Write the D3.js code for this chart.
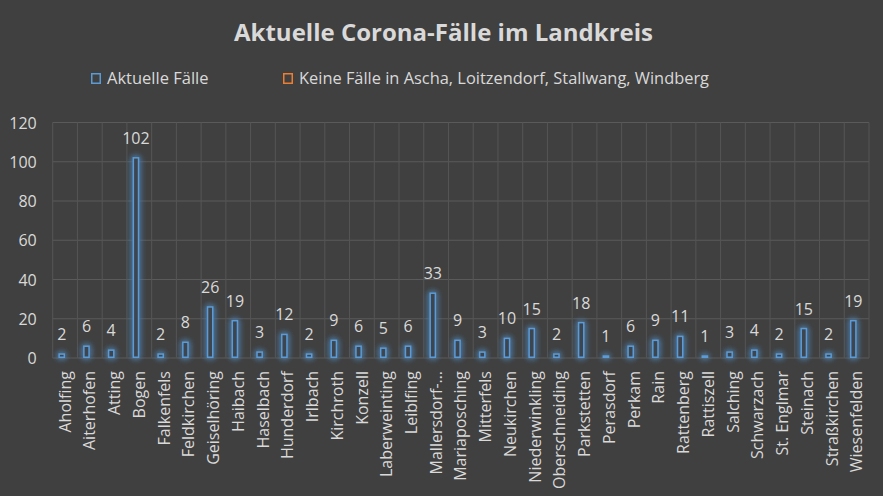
<!DOCTYPE html>
<html><head><meta charset="utf-8">
<script src="https://cdn.jsdelivr.net/npm/d3@7"></script>
<style>
html,body{margin:0;padding:0;background:#404040;}
svg{display:block;}
text{font-family:"Open Sans",sans-serif;}
</style></head><body>
<svg id="c" width="883" height="496"></svg>
<script>
const categories = ["Aholfing","Aiterhofen","Atting","Bogen","Falkenfels","Feldkirchen","Geiselhöring","Haibach","Haselbach","Hunderdorf","Irlbach","Kirchroth","Konzell","Laberweinting","Leiblfing","Mallersdorf-…","Mariaposching","Mitterfels","Neukirchen","Niederwinkling","Oberschneiding","Parkstetten","Perasdorf","Perkam","Rain","Rattenberg","Rattiszell","Salching","Schwarzach","St. Englmar","Steinach","Straßkirchen","Wiesenfelden"];
const aktuelleFaelle = [2,6,4,102,2,8,26,19,3,12,2,9,6,5,6,33,9,3,10,15,2,18,1,6,9,11,1,3,4,2,15,2,19];
const keineFaelle = categories.map(() => 0);
const seriesNames = ["Aktuelle Fälle","Keine Fälle in Ascha, Loitzendorf, Stallwang, Windberg"];
const yTicks = [0,20,40,60,80,100,120];
const title = "Aktuelle Corona-Fälle im Landkreis";

const svg = d3.select("#c");
const W = 883, H = 496;
const m = {left:52.7, right:W-869, top:122.5, bottom:H-358};
const colors = ["#5b9bd5","#ed7d31"];
const txt = "#d9d9d9";

const defs = svg.append("defs");
const f = defs.append("filter").attr("id","glow").attr("x","-150%").attr("y","-30%").attr("width","400%").attr("height","160%");
f.append("feGaussianBlur").attr("in","SourceGraphic").attr("stdDeviation",3).attr("result","b");
const fm = f.append("feMerge");
fm.append("feMergeNode").attr("in","b");
fm.append("feMergeNode").attr("in","b");
fm.append("feMergeNode").attr("in","SourceGraphic");

const x0 = d3.scaleBand().domain(categories).range([m.left, W-m.right]).padding(0);
const x1 = d3.scaleBand().domain([0,1]).range([x0.bandwidth()*0.23, x0.bandwidth()*0.77]);
const y = d3.scaleLinear().domain([0,120]).range([H-m.bottom, m.top]);

// gridlines
const g = svg.append("g");
g.selectAll("line.h").data(yTicks).join("line")
  .attr("x1", m.left).attr("x2", W-m.right)
  .attr("y1", d=>y(d)).attr("y2", d=>y(d))
  .attr("stroke","#5a5a5a").attr("stroke-width",1);
const vx = categories.map(c=>x0(c)).concat([W-m.right]);
g.selectAll("line.v").data(vx).join("line")
  .attr("x1", d=>d).attr("x2", d=>d)
  .attr("y1", y(120)).attr("y2", y(0))
  .attr("stroke","#555555").attr("stroke-width",1);

// y axis
const ya = svg.append("g").attr("transform",`translate(${m.left-16},0)`)
  .call(d3.axisLeft(y).tickValues(yTicks).tickSize(0).tickPadding(0));
ya.select(".domain").remove();
ya.selectAll("text").attr("fill",txt).attr("font-size",16).attr("font-family","'Open Sans',sans-serif").attr("dy","0.35em");

// x axis
const xa = svg.append("g").attr("transform",`translate(0,${y(0)})`)
  .call(d3.axisBottom(x0).tickSize(0).tickPadding(0));
xa.select(".domain").remove();
xa.selectAll("text").attr("fill",txt).attr("font-size",16).attr("font-family","'Open Sans',sans-serif")
  .attr("transform","rotate(-90)").attr("text-anchor","end")
  .attr("x",-13).attr("y",0).attr("dy","0.35em");

// bars
const data = [aktuelleFaelle, keineFaelle];
data.forEach((vals, si) => {
  const bg = svg.append("g").attr("filter","url(#glow)");
  bg.selectAll("rect").data(categories.map((c,i)=>({c, v:vals[i]})).filter(d=>d.v>0)).join("rect")
    .attr("x", d=>x0(d.c)+x1(si)+0.75)
    .attr("width", x1.bandwidth()-1.5)
    .attr("y", d=>y(d.v))
    .attr("height", d=>y(0)-y(d.v)-0.75)
    .attr("fill","#3d4450").attr("stroke",colors[si]).attr("stroke-width",1.5);
  svg.append("g").selectAll("text").data(categories.map((c,i)=>({c, v:vals[i]})).filter(d=>d.v>0)).join("text")
    .attr("x", d=>x0(d.c)+x1(si)+x1.bandwidth()/2)
    .attr("y", d=>y(d.v)-14)
    .attr("text-anchor","middle").attr("fill",txt).attr("font-size",16)
    .text(d=>d.v);
});

// title
svg.append("text").attr("x",443.5).attr("y",41).attr("text-anchor","middle")
  .attr("fill",txt).attr("font-size",23).attr("font-weight","bold").attr("textLength",419).attr("lengthAdjust","spacingAndGlyphs")
  .text(title);

// legend
const legX = [91, 283];
const legW = [101.5, 410];
seriesNames.forEach((s,i)=>{
  const lg = svg.append("g");
  lg.append("rect").attr("x",legX[i]+0.75).attr("y",73.75).attr("width",8.5).attr("height",9.5)
    .attr("fill","none").attr("stroke",colors[i]).attr("stroke-width",1.5);
  lg.append("text").attr("x",legX[i]+16).attr("y",84).attr("fill",txt).attr("font-size",16)
    .attr("textLength",legW[i]).attr("lengthAdjust","spacingAndGlyphs").text(s);
});
</script></body></html>
